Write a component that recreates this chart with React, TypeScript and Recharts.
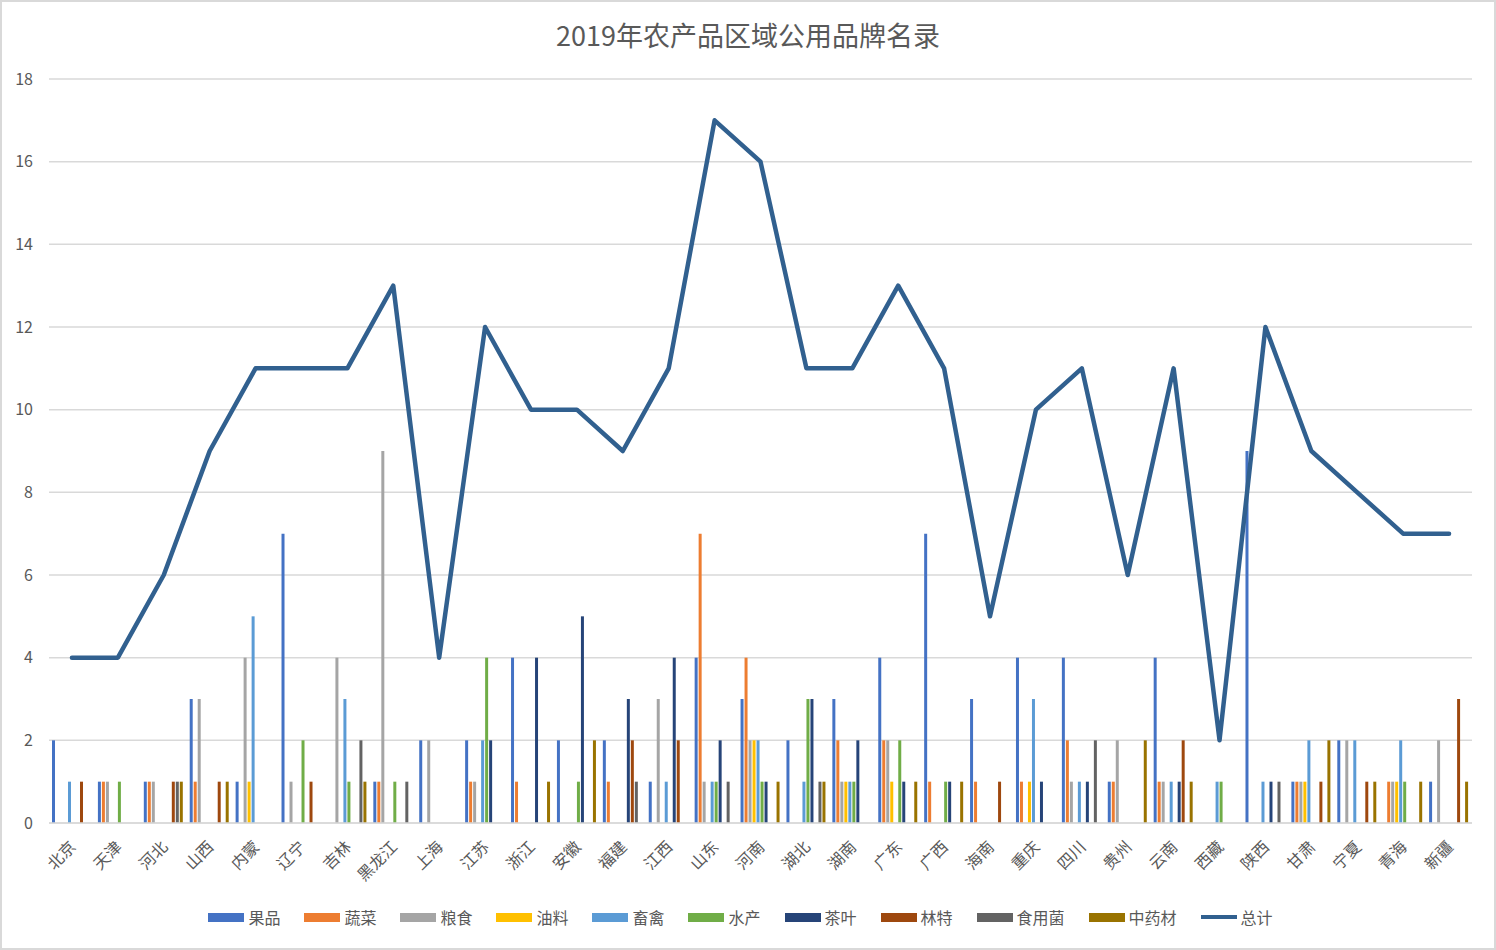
import React from "react";
import {
  ComposedChart,
  Bar,
  Line,
  XAxis,
  YAxis,
  CartesianGrid,
  Legend,
} from "recharts";

const provinces = [
  "北京", "天津", "河北", "山西", "内蒙", "辽宁", "吉林", "黑龙江", "上海", "江苏",
  "浙江", "安徽", "福建", "江西", "山东", "河南", "湖北", "湖南", "广东", "广西",
  "海南", "重庆", "四川", "贵州", "云南", "西藏", "陕西", "甘肃", "宁夏", "青海", "新疆",
];

const fruit = [2, 1, 1, 3, 1, 7, 0, 1, 2, 2, 4, 2, 2, 1, 4, 3, 2, 3, 4, 7, 3, 4, 4, 1, 4, 0, 9, 1, 2, 0, 1];
const veg = [0, 1, 1, 1, 0, 0, 0, 1, 0, 1, 1, 0, 1, 0, 7, 4, 0, 2, 2, 1, 1, 1, 2, 1, 1, 0, 0, 1, 0, 1, 0];
const grain = [0, 1, 1, 3, 4, 1, 4, 9, 2, 1, 0, 0, 0, 3, 1, 2, 0, 1, 2, 0, 0, 0, 1, 2, 1, 0, 0, 1, 2, 1, 2];
const oil = [0, 0, 0, 0, 1, 0, 0, 0, 0, 0, 0, 0, 0, 0, 0, 2, 0, 1, 1, 0, 0, 1, 0, 0, 0, 0, 0, 1, 0, 1, 0];
const livestock = [1, 0, 0, 0, 5, 0, 3, 0, 0, 2, 0, 0, 0, 1, 1, 2, 1, 1, 0, 0, 0, 3, 1, 0, 1, 1, 1, 2, 2, 2, 0];
const aquatic = [0, 1, 0, 0, 0, 2, 1, 1, 0, 4, 0, 1, 0, 0, 1, 1, 3, 1, 2, 1, 0, 0, 0, 0, 0, 1, 0, 0, 0, 1, 0];
const tea = [0, 0, 0, 0, 0, 0, 0, 0, 0, 2, 4, 5, 3, 4, 2, 1, 3, 2, 1, 1, 0, 1, 1, 0, 1, 0, 1, 0, 0, 0, 0];
const forest = [1, 0, 1, 1, 0, 1, 0, 0, 0, 0, 0, 0, 2, 2, 0, 0, 0, 0, 0, 0, 1, 0, 0, 0, 2, 0, 0, 1, 1, 0, 3];
const fungi = [0, 0, 1, 0, 0, 0, 2, 1, 0, 0, 0, 0, 1, 0, 1, 0, 1, 0, 0, 0, 0, 0, 2, 0, 0, 0, 1, 0, 0, 0, 0];
const herbs = [0, 0, 1, 1, 0, 0, 1, 0, 0, 0, 1, 2, 0, 0, 0, 1, 1, 0, 1, 1, 0, 0, 0, 2, 1, 0, 0, 2, 1, 1, 1];
const total = [4, 4, 6, 9, 11, 11, 11, 13, 4, 12, 10, 10, 9, 11, 17, 16, 11, 11, 13, 11, 5, 10, 11, 6, 11, 2, 12, 9, 8, 7, 7];

const yTicks = [0, 2, 4, 6, 8, 10, 12, 14, 16, 18];

const barSeries = [
  { key: "果品", values: fruit, color: "#4472C4" },
  { key: "蔬菜", values: veg, color: "#ED7D31" },
  { key: "粮食", values: grain, color: "#A5A5A5" },
  { key: "油料", values: oil, color: "#FFC000" },
  { key: "畜禽", values: livestock, color: "#5B9BD5" },
  { key: "水产", values: aquatic, color: "#70AD47" },
  { key: "茶叶", values: tea, color: "#264478" },
  { key: "林特", values: forest, color: "#9E480E" },
  { key: "食用菌", values: fungi, color: "#636363" },
  { key: "中药材", values: herbs, color: "#997300" },
];
const lineName = "总计";
const lineColor = "#31608F";

const data = provinces.map((name, i) => {
  const row: Record<string, string | number> = { name };
  barSeries.forEach((s) => {
    row[s.key] = s.values[i];
  });
  row[lineName] = total[i];
  return row;
});

const FONT = '"Noto Sans CJK SC", "Noto Sans", sans-serif';
const TEXT = "#595959";

const XTick = (props: any) => {
  const { x, y, payload } = props;
  const ax = x + 5;
  const ay = y + 17;
  return (
    <text
      x={ax}
      y={ay}
      transform={`rotate(-45, ${ax}, ${ay})`}
      textAnchor="end"
      fill={TEXT}
      fontSize={16}
      fontFamily={FONT}
    >
      {payload.value}
    </text>
  );
};

const LegendContent = () => (
  <div
    style={{
      display: "flex",
      justifyContent: "center",
      alignItems: "center",
      fontFamily: FONT,
      fontSize: 16,
      color: TEXT,
    }}
  >
    {barSeries.map((s) => (
      <div key={s.key} style={{ display: "flex", alignItems: "center", marginRight: 24 }}>
        <span style={{ width: 36, height: 9, background: s.color, marginRight: 4 }} />
        <span>{s.key}</span>
      </div>
    ))}
    <div style={{ display: "flex", alignItems: "center" }}>
      <span style={{ width: 36, height: 4, background: lineColor, marginRight: 4 }} />
      <span>{lineName}</span>
    </div>
  </div>
);

export default function App() {
  return (
    <div
      style={{
        position: "absolute",
        left: 0,
        top: 0,
        width: 1496,
        height: 950,
        boxSizing: "border-box",
        border: "2px solid #D9D9D9",
        background: "#fff",
        fontFamily: FONT,
      }}
    >
      <div
        style={{
          position: "absolute",
          top: 14,
          left: 0,
          width: "100%",
          textAlign: "center",
          fontSize: 27,
          color: TEXT,
          lineHeight: "38px",
        }}
      >
        2019年农产品区域公用品牌名录
      </div>
      <div style={{ position: "absolute", left: -2, top: -2 }}>
        <ComposedChart
          width={1496}
          height={950}
          data={data}
          margin={{ top: 79, right: 24, bottom: 5, left: 9 }}
          barCategoryGap={3}
          barGap={1}
        >
          <CartesianGrid vertical={false} stroke="#D9D9D9" strokeWidth={1.5} />
          <XAxis
            dataKey="name"
            interval={0}
            tickLine={false}
            axisLine={{ stroke: "#D9D9D9", strokeWidth: 1.5 }}
            tick={<XTick />}
            height={82}
          />
          <YAxis
            domain={[0, 18]}
            ticks={yTicks}
            width={40}
            tickLine={false}
            axisLine={false}
            tick={{ fill: TEXT, fontSize: 16, fontFamily: FONT }}
            tickMargin={10}
          />
          {barSeries.map((s) => (
            <Bar key={s.key} dataKey={s.key} fill={s.color} isAnimationActive={false} />
          ))}
          <Line
            type="linear"
            dataKey={lineName}
            stroke={lineColor}
            strokeWidth={4.5}
            dot={false}
            activeDot={false}
            strokeLinejoin="round"
            strokeLinecap="round"
            isAnimationActive={false}
          />
          <Legend verticalAlign="bottom" height={40} content={<LegendContent />} />
        </ComposedChart>
      </div>
    </div>
  );
}
